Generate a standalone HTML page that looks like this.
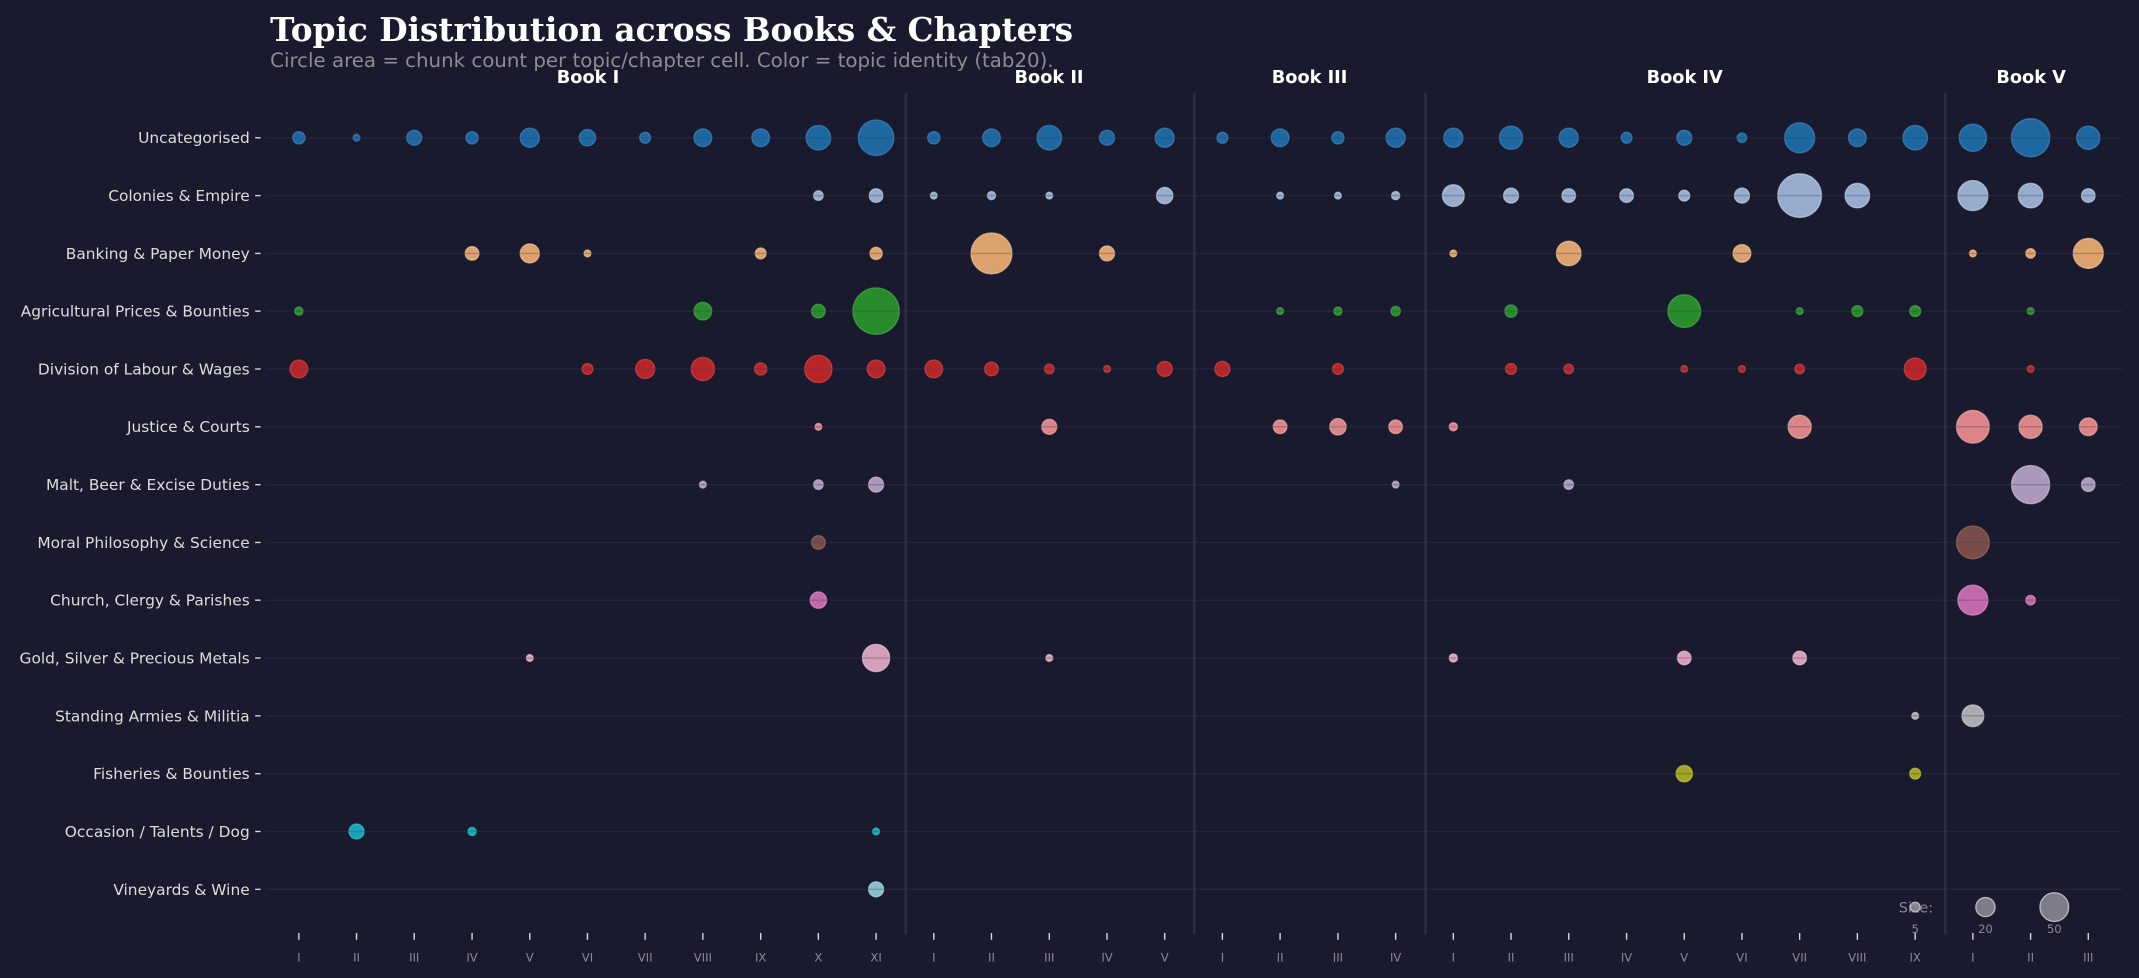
<!DOCTYPE html>
<html><head><meta charset="utf-8"><style>
html,body{margin:0;padding:0;background:#1a1a2e;}
svg{display:block;}
.yl{font-family:"DejaVu Sans","Liberation Sans",sans-serif;font-size:11.3px;fill:#dcdcdc;text-anchor:end;}
.xl{font-family:"DejaVu Sans","Liberation Sans",sans-serif;font-size:8.5px;fill:#8a8a96;text-anchor:middle;}
.bk{font-family:"DejaVu Sans","Liberation Sans",sans-serif;font-size:13px;font-weight:bold;fill:#fff;text-anchor:middle;}
g.c circle{fill-opacity:0.85;stroke-opacity:0.6;stroke-width:1;}
</style></head><body>
<svg width="2139" height="978" viewBox="0 0 1568 717" xmlns="http://www.w3.org/2000/svg">
<rect width="1568" height="717" fill="#1a1a2e"/>
<text x="198" y="30" font-family="DejaVu Serif,Liberation Serif,serif" font-size="24" font-weight="bold" fill="#fff">Topic Distribution across Books &amp; Chapters</text>
<text x="198" y="49" font-family="DejaVu Sans,Liberation Sans,sans-serif" font-size="14.5" fill="#8c8c94">Circle area = chunk count per topic/chapter cell. Color = topic identity (tab20).</text>
<text class="bk" x="431" y="61">Book I</text>
<text class="bk" x="769" y="61">Book II</text>
<text class="bk" x="960" y="61">Book III</text>
<text class="bk" x="1235" y="61">Book IV</text>
<text class="bk" x="1489" y="61">Book V</text>
<g stroke="#2c2c48" stroke-width="2">
<line x1="664" y1="68" x2="664" y2="685"/><line x1="875.5" y1="68" x2="875.5" y2="685"/><line x1="1045" y1="68" x2="1045" y2="685"/><line x1="1426" y1="68" x2="1426" y2="685"/>
</g>
<g class="yl">
<text x="183" y="105">Uncategorised</text>
<text x="183" y="147.4">Colonies &amp; Empire</text>
<text x="183" y="189.8">Banking &amp; Paper Money</text>
<text x="183" y="232.1">Agricultural Prices &amp; Bounties</text>
<text x="183" y="274.5">Division of Labour &amp; Wages</text>
<text x="183" y="316.9">Justice &amp; Courts</text>
<text x="183" y="359.3">Malt, Beer &amp; Excise Duties</text>
<text x="183" y="401.7">Moral Philosophy &amp; Science</text>
<text x="183" y="444">Church, Clergy &amp; Parishes</text>
<text x="183" y="486.4">Gold, Silver &amp; Precious Metals</text>
<text x="183" y="528.8">Standing Armies &amp; Militia</text>
<text x="183" y="571.2">Fisheries &amp; Bounties</text>
<text x="183" y="613.6">Occasion / Talents / Dog</text>
<text x="183" y="656">Vineyards &amp; Wine</text>
</g>
<g stroke="#dcdcdc" stroke-width="1">
<line x1="187" x2="191" y1="101" y2="101"/><line x1="187" x2="191" y1="143.4" y2="143.4"/><line x1="187" x2="191" y1="185.8" y2="185.8"/><line x1="187" x2="191" y1="228.1" y2="228.1"/><line x1="187" x2="191" y1="270.5" y2="270.5"/><line x1="187" x2="191" y1="312.9" y2="312.9"/><line x1="187" x2="191" y1="355.3" y2="355.3"/><line x1="187" x2="191" y1="397.7" y2="397.7"/><line x1="187" x2="191" y1="440" y2="440"/><line x1="187" x2="191" y1="482.4" y2="482.4"/><line x1="187" x2="191" y1="524.8" y2="524.8"/><line x1="187" x2="191" y1="567.2" y2="567.2"/><line x1="187" x2="191" y1="609.6" y2="609.6"/><line x1="187" x2="191" y1="652" y2="652"/>
</g>
<g class="c">
<g transform="translate(0,101)" fill="#1f77b4" stroke="#4a90c8">
<circle cx="219" r="4.5"/><circle cx="261.3" r="2.5"/><circle cx="303.6" r="5.5"/><circle cx="346" r="4.5"/><circle cx="388.3" r="7"/><circle cx="430.6" r="6"/><circle cx="472.9" r="4"/><circle cx="515.2" r="6.5"/><circle cx="557.6" r="6.5"/><circle cx="599.9" r="9"/><circle cx="642.2" r="13"/><circle cx="684.5" r="4.5"/><circle cx="726.8" r="6.5"/><circle cx="769.2" r="9"/><circle cx="811.5" r="5.5"/><circle cx="853.8" r="7"/><circle cx="896.1" r="4"/><circle cx="938.4" r="6.5"/><circle cx="980.8" r="4.5"/><circle cx="1023.1" r="7"/><circle cx="1065.4" r="7"/><circle cx="1107.7" r="8.5"/><circle cx="1150" r="7"/><circle cx="1192.4" r="4"/><circle cx="1234.7" r="5.5"/><circle cx="1277" r="3.5"/><circle cx="1319.3" r="11"/><circle cx="1361.6" r="6.5"/><circle cx="1404" r="9"/><circle cx="1446.3" r="10"/><circle cx="1488.6" r="14"/><circle cx="1530.9" r="8.5"/>
</g>
<g transform="translate(0,143.4)" fill="#aec7e8" stroke="#d0dff2">
<circle cx="599.9" r="3.5"/><circle cx="642.2" r="5"/><circle cx="684.5" r="2.5"/><circle cx="726.8" r="3"/><circle cx="769.2" r="2.5"/><circle cx="853.8" r="6"/><circle cx="938.4" r="2.5"/><circle cx="980.8" r="2.5"/><circle cx="1023.1" r="3"/><circle cx="1065.4" r="8"/><circle cx="1107.7" r="5.5"/><circle cx="1150" r="5"/><circle cx="1192.4" r="5"/><circle cx="1234.7" r="4"/><circle cx="1277" r="5.5"/><circle cx="1319.3" r="16"/><circle cx="1361.6" r="9"/><circle cx="1446.3" r="11"/><circle cx="1488.6" r="9"/><circle cx="1530.9" r="5"/>
</g>
<g transform="translate(0,185.8)" fill="#ffbb78" stroke="#ffd2a6">
<circle cx="346" r="5"/><circle cx="388.3" r="7"/><circle cx="430.6" r="2.5"/><circle cx="557.6" r="4"/><circle cx="642.2" r="4.5"/><circle cx="726.8" r="15"/><circle cx="811.5" r="5.5"/><circle cx="1065.4" r="2.5"/><circle cx="1150" r="9"/><circle cx="1277" r="6.5"/><circle cx="1446.3" r="2.5"/><circle cx="1488.6" r="3.5"/><circle cx="1530.9" r="11"/>
</g>
<g transform="translate(0,228.1)" fill="#2ca02c" stroke="#4cb84c">
<circle cx="219" r="3"/><circle cx="515.2" r="6.5"/><circle cx="599.9" r="5"/><circle cx="642.2" r="17"/><circle cx="938.4" r="2.5"/><circle cx="980.8" r="3"/><circle cx="1023.1" r="3.5"/><circle cx="1107.7" r="4.5"/><circle cx="1234.7" r="12"/><circle cx="1319.3" r="2.5"/><circle cx="1361.6" r="4"/><circle cx="1404" r="4"/><circle cx="1488.6" r="2.5"/>
</g>
<g transform="translate(0,270.5)" fill="#d62728" stroke="#e05050">
<circle cx="219" r="6.5"/><circle cx="430.6" r="4"/><circle cx="472.9" r="7"/><circle cx="515.2" r="8.5"/><circle cx="557.6" r="4.5"/><circle cx="599.9" r="10"/><circle cx="642.2" r="6.5"/><circle cx="684.5" r="6.5"/><circle cx="726.8" r="5"/><circle cx="769.2" r="3.5"/><circle cx="811.5" r="2.5"/><circle cx="853.8" r="5.5"/><circle cx="896.1" r="5.5"/><circle cx="980.8" r="4"/><circle cx="1107.7" r="4"/><circle cx="1150" r="3.5"/><circle cx="1234.7" r="2.5"/><circle cx="1277" r="2.5"/><circle cx="1319.3" r="3.5"/><circle cx="1404" r="8"/><circle cx="1488.6" r="2.5"/>
</g>
<g transform="translate(0,312.9)" fill="#ff9896" stroke="#ffb8b6">
<circle cx="599.9" r="2.5"/><circle cx="769.2" r="5.5"/><circle cx="938.4" r="5"/><circle cx="980.8" r="6"/><circle cx="1023.1" r="5"/><circle cx="1065.4" r="3"/><circle cx="1319.3" r="8.5"/><circle cx="1446.3" r="12"/><circle cx="1488.6" r="8.5"/><circle cx="1530.9" r="6.5"/>
</g>
<g transform="translate(0,355.3)" fill="#c5b0d5" stroke="#dccbe8">
<circle cx="515.2" r="2.5"/><circle cx="599.9" r="3.5"/><circle cx="642.2" r="5.5"/><circle cx="1023.1" r="2.5"/><circle cx="1150" r="3.5"/><circle cx="1488.6" r="14"/><circle cx="1530.9" r="5"/>
</g>
<g transform="translate(0,397.7)" fill="#8c564b" stroke="#a87468">
<circle cx="599.9" r="5"/><circle cx="1446.3" r="12"/>
</g>
<g transform="translate(0,440)" fill="#e377c2" stroke="#ee9ad4">
<circle cx="599.9" r="6"/><circle cx="1446.3" r="11"/><circle cx="1488.6" r="3.5"/>
</g>
<g transform="translate(0,482.4)" fill="#f7b6d2" stroke="#fbd0e2">
<circle cx="388.3" r="2.5"/><circle cx="642.2" r="10"/><circle cx="769.2" r="2.5"/><circle cx="1065.4" r="3"/><circle cx="1234.7" r="5"/><circle cx="1319.3" r="5"/>
</g>
<g transform="translate(0,524.8)" fill="#c7c7c7" stroke="#e0e0e0">
<circle cx="1404" r="2.5"/><circle cx="1446.3" r="8"/>
</g>
<g transform="translate(0,567.2)" fill="#bcbd22" stroke="#d2d34a">
<circle cx="1234.7" r="6"/><circle cx="1404" r="4"/>
</g>
<g transform="translate(0,609.6)" fill="#17becf" stroke="#4ad2de">
<circle cx="261.3" r="5.5"/><circle cx="346" r="3"/><circle cx="642.2" r="2.5"/>
</g>
<g transform="translate(0,652)" fill="#9edae5" stroke="#c0e8ef">
<circle cx="642.2" r="5.5"/>
</g>
</g>
<g stroke="#3a3a5a" stroke-opacity="0.3" stroke-width="1">
<line x1="195" x2="1556" y1="101" y2="101"/><line x1="195" x2="1556" y1="143.4" y2="143.4"/><line x1="195" x2="1556" y1="185.8" y2="185.8"/><line x1="195" x2="1556" y1="228.1" y2="228.1"/><line x1="195" x2="1556" y1="270.5" y2="270.5"/><line x1="195" x2="1556" y1="312.9" y2="312.9"/><line x1="195" x2="1556" y1="355.3" y2="355.3"/><line x1="195" x2="1556" y1="397.7" y2="397.7"/><line x1="195" x2="1556" y1="440" y2="440"/><line x1="195" x2="1556" y1="482.4" y2="482.4"/><line x1="195" x2="1556" y1="524.8" y2="524.8"/><line x1="195" x2="1556" y1="567.2" y2="567.2"/><line x1="195" x2="1556" y1="609.6" y2="609.6"/><line x1="195" x2="1556" y1="652" y2="652"/>
</g>
<text x="1392" y="669" font-family="DejaVu Sans,Liberation Sans,sans-serif" font-size="10.5" fill="#8a8a96">Size:</text>
<g fill="#8a8a96" fill-opacity="0.9" stroke="#b8b8c0" stroke-width="1">
<circle cx="1404" cy="665" r="3.5"/><circle cx="1455.5" cy="665" r="7"/><circle cx="1506" cy="665" r="10.5"/>
</g>
<g class="xl"><text x="1404" y="684">5</text><text x="1455.5" y="684">20</text><text x="1506" y="684">50</text></g>
<g stroke="#dcdcdc" stroke-width="1">
<line x1="219" x2="219" y1="684" y2="689"/><line x1="261.3" x2="261.3" y1="684" y2="689"/><line x1="303.6" x2="303.6" y1="684" y2="689"/><line x1="346" x2="346" y1="684" y2="689"/><line x1="388.3" x2="388.3" y1="684" y2="689"/><line x1="430.6" x2="430.6" y1="684" y2="689"/><line x1="472.9" x2="472.9" y1="684" y2="689"/><line x1="515.2" x2="515.2" y1="684" y2="689"/><line x1="557.6" x2="557.6" y1="684" y2="689"/><line x1="599.9" x2="599.9" y1="684" y2="689"/><line x1="642.2" x2="642.2" y1="684" y2="689"/><line x1="684.5" x2="684.5" y1="684" y2="689"/><line x1="726.8" x2="726.8" y1="684" y2="689"/><line x1="769.2" x2="769.2" y1="684" y2="689"/><line x1="811.5" x2="811.5" y1="684" y2="689"/><line x1="853.8" x2="853.8" y1="684" y2="689"/><line x1="896.1" x2="896.1" y1="684" y2="689"/><line x1="938.4" x2="938.4" y1="684" y2="689"/><line x1="980.8" x2="980.8" y1="684" y2="689"/><line x1="1023.1" x2="1023.1" y1="684" y2="689"/><line x1="1065.4" x2="1065.4" y1="684" y2="689"/><line x1="1107.7" x2="1107.7" y1="684" y2="689"/><line x1="1150" x2="1150" y1="684" y2="689"/><line x1="1192.4" x2="1192.4" y1="684" y2="689"/><line x1="1234.7" x2="1234.7" y1="684" y2="689"/><line x1="1277" x2="1277" y1="684" y2="689"/><line x1="1319.3" x2="1319.3" y1="684" y2="689"/><line x1="1361.6" x2="1361.6" y1="684" y2="689"/><line x1="1404" x2="1404" y1="684" y2="689"/><line x1="1446.3" x2="1446.3" y1="684" y2="689"/><line x1="1488.6" x2="1488.6" y1="684" y2="689"/><line x1="1530.9" x2="1530.9" y1="684" y2="689"/>
</g>
<g class="xl">
<text x="219" y="705">I</text><text x="261.3" y="705">II</text><text x="303.6" y="705">III</text><text x="346" y="705">IV</text><text x="388.3" y="705">V</text><text x="430.6" y="705">VI</text><text x="472.9" y="705">VII</text><text x="515.2" y="705">VIII</text><text x="557.6" y="705">IX</text><text x="599.9" y="705">X</text><text x="642.2" y="705">XI</text>
<text x="684.5" y="705">I</text><text x="726.8" y="705">II</text><text x="769.2" y="705">III</text><text x="811.5" y="705">IV</text><text x="853.8" y="705">V</text>
<text x="896.1" y="705">I</text><text x="938.4" y="705">II</text><text x="980.8" y="705">III</text><text x="1023.1" y="705">IV</text>
<text x="1065.4" y="705">I</text><text x="1107.7" y="705">II</text><text x="1150" y="705">III</text><text x="1192.4" y="705">IV</text><text x="1234.7" y="705">V</text><text x="1277" y="705">VI</text><text x="1319.3" y="705">VII</text><text x="1361.6" y="705">VIII</text><text x="1404" y="705">IX</text>
<text x="1446.3" y="705">I</text><text x="1488.6" y="705">II</text><text x="1530.9" y="705">III</text>
</g>
</svg>
</body></html>
